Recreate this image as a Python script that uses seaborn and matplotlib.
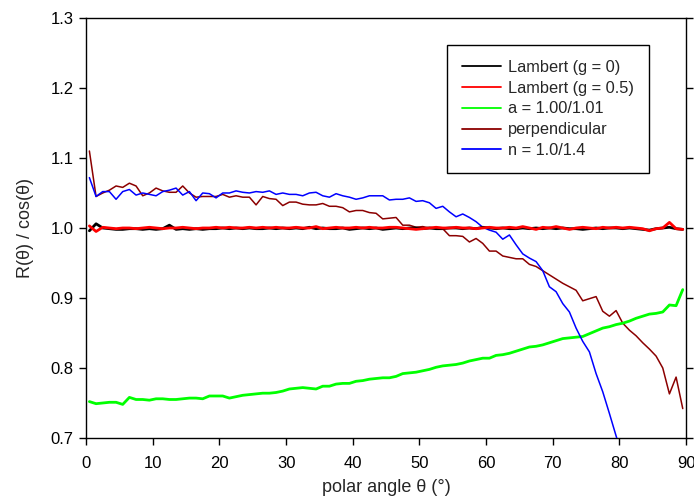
import numpy as np
import matplotlib
matplotlib.use("Agg")
import matplotlib.pyplot as plt
import seaborn as sns

# polar angle grid (deg), one sample per degree bin
angle = np.arange(0.5, 90.0, 1.0)

lambert_g0 = [
    0.996, 1.006, 1.000, 0.999, 0.998, 0.998, 0.999, 0.999, 0.998, 0.999,
    0.998, 0.999, 1.004, 0.998, 0.999, 0.998, 0.999, 0.998, 0.999, 0.999,
    1.000, 0.999, 1.000, 0.999, 1.000, 0.999, 0.999, 1.000, 0.999, 1.000,
    0.999, 1.000, 0.999, 1.001, 0.999, 1.000, 0.999, 0.999, 1.000, 0.998,
    0.999, 1.000, 0.999, 1.000, 0.998, 0.999, 1.000, 0.999, 1.000, 1.000,
    0.999, 1.000, 0.999, 0.999, 1.000, 1.000, 0.999, 1.000, 0.999, 1.001,
    1.000, 0.999, 1.000, 0.999, 0.999, 1.000, 0.999, 1.000, 0.999, 1.000,
    0.999, 1.000, 0.999, 0.999, 0.998, 0.999, 1.000, 0.999, 1.000, 1.000,
    0.999, 1.000, 0.999, 0.998, 0.997, 0.999, 1.000, 1.001, 0.999, 0.998,
]

lambert_g05 = [
    1.003, 0.995, 1.001, 1.000, 0.999, 1.000, 1.000, 0.999, 1.000, 1.001,
    1.000, 0.999, 1.000, 1.000, 1.001, 1.000, 0.999, 1.000, 1.000, 1.001,
    1.000, 1.001, 1.000, 1.000, 1.001, 1.000, 1.001, 1.000, 1.001, 1.000,
    1.000, 1.001, 1.000, 1.000, 1.002, 0.999, 1.000, 1.001, 1.000, 1.000,
    1.001, 1.000, 1.001, 1.000, 1.000, 1.001, 1.001, 1.000, 0.999, 0.998,
    0.999, 1.000, 1.001, 1.000, 1.000, 1.001, 1.000, 1.000, 0.999, 1.000,
    1.001, 1.000, 1.000, 1.001, 1.000, 1.002, 1.000, 0.998, 1.001, 1.000,
    1.002, 1.000, 0.998, 1.000, 1.001, 1.000, 0.999, 1.001, 1.000, 1.001,
    1.000, 1.001, 1.000, 0.999, 0.996, 0.999, 1.000, 1.008, 0.999, 0.998,
]

absorb = [
    0.752, 0.749, 0.750, 0.751, 0.751, 0.748, 0.758, 0.755, 0.755, 0.754,
    0.756, 0.756, 0.755, 0.755, 0.756, 0.757, 0.757, 0.756, 0.760, 0.760,
    0.760, 0.757, 0.759, 0.761, 0.762, 0.763, 0.764, 0.764, 0.765, 0.767,
    0.770, 0.771, 0.772, 0.771, 0.770, 0.774, 0.774, 0.777, 0.778, 0.778,
    0.781, 0.782, 0.784, 0.785, 0.786, 0.786, 0.788, 0.792, 0.793, 0.794,
    0.796, 0.798, 0.801, 0.803, 0.804, 0.805, 0.807, 0.810, 0.812, 0.814,
    0.814, 0.818, 0.819, 0.821, 0.824, 0.827, 0.830, 0.831, 0.833, 0.836,
    0.839, 0.842, 0.843, 0.844, 0.845, 0.849, 0.853, 0.857, 0.859, 0.862,
    0.864, 0.867, 0.871, 0.874, 0.877, 0.878, 0.880, 0.890, 0.889, 0.912,
]

perpendicular = [
    1.110, 1.045, 1.050, 1.054, 1.060, 1.058, 1.064, 1.060, 1.046, 1.050,
    1.057, 1.053, 1.051, 1.051, 1.060, 1.050, 1.044, 1.045, 1.045, 1.045,
    1.048, 1.044, 1.046, 1.044, 1.044, 1.033, 1.045, 1.042, 1.041, 1.032,
    1.037, 1.037, 1.034, 1.033, 1.033, 1.035, 1.031, 1.031, 1.029, 1.023,
    1.025, 1.025, 1.022, 1.021, 1.013, 1.014, 1.015, 1.004, 1.004, 1.001,
    1.002, 1.000, 1.000, 0.999, 0.989, 0.989, 0.988, 0.980, 0.985, 0.978,
    0.967, 0.967, 0.960, 0.958, 0.956, 0.956, 0.948, 0.945, 0.939, 0.933,
    0.927, 0.921, 0.916, 0.911, 0.896, 0.899, 0.902, 0.881, 0.874, 0.882,
    0.864, 0.854, 0.846, 0.836, 0.827, 0.817, 0.800, 0.763, 0.787, 0.742,
]

# n = 1.0/1.4 drops out of the plotted range after ~80 deg
refract = [
    1.072, 1.045, 1.052, 1.052, 1.041, 1.052, 1.055, 1.047, 1.050, 1.048,
    1.046, 1.052, 1.054, 1.057, 1.047, 1.052, 1.039, 1.050, 1.049, 1.043,
    1.050, 1.050, 1.053, 1.051, 1.050, 1.052, 1.051, 1.053, 1.048, 1.050,
    1.048, 1.048, 1.046, 1.050, 1.051, 1.046, 1.044, 1.049, 1.046, 1.044,
    1.041, 1.043, 1.046, 1.046, 1.046, 1.040, 1.041, 1.041, 1.043, 1.038,
    1.039, 1.036, 1.028, 1.031, 1.023, 1.016, 1.020, 1.015, 1.009, 1.001,
    0.997, 0.994, 0.984, 0.990, 0.976, 0.963, 0.957, 0.952, 0.939, 0.916,
    0.909, 0.892, 0.880, 0.857, 0.838, 0.823, 0.792, 0.766, 0.735, 0.703,
    0.672,
]

sns.set_style("ticks")
plt.rcParams["font.family"] = ["Liberation Sans", "DejaVu Sans"]

fig = plt.figure(figsize=(6.94, 4.98), dpi=100)
ax = fig.add_axes([0.124, 0.1205, 0.8646, 0.8434])

sns.lineplot(x=angle, y=lambert_g0, color="black", lw=2.0, label="Lambert (g = 0)", ax=ax, zorder=4)
sns.lineplot(x=angle, y=lambert_g05, color="#ff0000", lw=2.0, label="Lambert (g = 0.5)", ax=ax, zorder=5)
sns.lineplot(x=angle, y=absorb, color="#00ff00", lw=2.0, label="a = 1.00/1.01", ax=ax, zorder=3)
sns.lineplot(x=angle, y=perpendicular, color="#8b0000", lw=1.1, label="perpendicular", ax=ax, zorder=2)
sns.lineplot(x=angle[:len(refract)], y=refract, color="#0000ff", lw=1.1, label="n = 1.0/1.4", ax=ax, zorder=3)

ax.set_xlim(0, 90)
ax.set_ylim(0.7, 1.3)
ax.set_xticks(np.arange(0, 91, 10))
ax.set_yticks(np.arange(0.7, 1.31, 0.1))
ax.yaxis.set_major_formatter(matplotlib.ticker.FormatStrFormatter("%.1f"))
ax.tick_params(direction="out", length=5, width=1, color="black",
               labelsize=12, labelcolor="black", top=False, right=True,
               labelright=False)
ax.tick_params(axis="x", pad=8)
ax.tick_params(axis="y", pad=4)
for s in ax.spines.values():
    s.set_visible(True)
    s.set_color("black")
    s.set_linewidth(1.0)

ax.set_xlabel("polar angle θ (°)", fontsize=13, labelpad=6)
ax.set_ylabel("R(θ) / cos(θ)", fontsize=13, labelpad=12)

leg = ax.legend(loc="upper right", bbox_to_anchor=(0.938, 0.936), borderaxespad=0,
                fontsize=11.8, frameon=True, fancybox=False, framealpha=1,
                edgecolor="black", handlelength=2.4, handletextpad=0.45,
                labelspacing=0.36, borderpad=0.9)
leg.get_frame().set_linewidth(1.0)
for h in leg.get_lines():
    h.set_linewidth(1.3)

fig.savefig("out.png", dpi=100)
